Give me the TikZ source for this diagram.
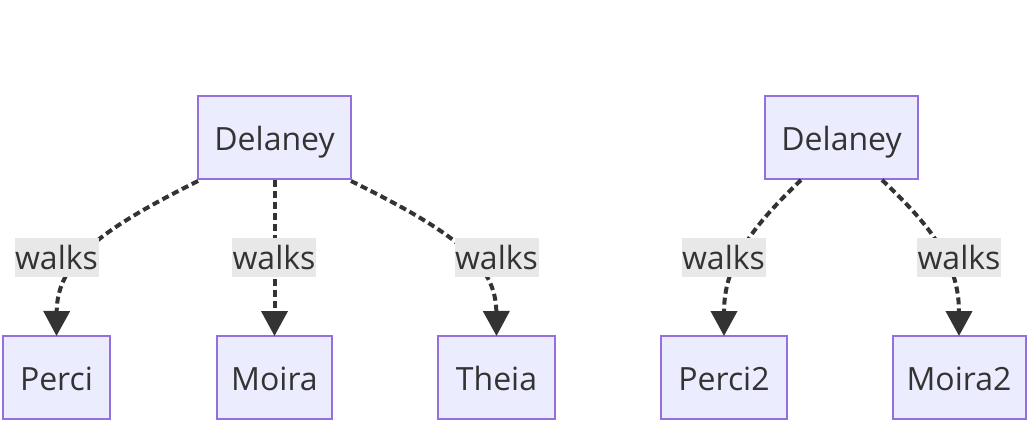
\documentclass[tikz,border=0pt]{standalone}
\usepackage{fontspec}
\setmainfont{Open Sans}
\usetikzlibrary{arrows.meta}
\definecolor{nodefill}{HTML}{ECECFF}
\definecolor{nodeline}{HTML}{9370DB}
\definecolor{edgecol}{HTML}{333333}
\definecolor{labfill}{HTML}{E8E8E8}
\tikzset{
  box/.style={draw=nodeline, fill=nodefill, line width=2pt, minimum height=83pt,
    inner sep=0pt, text=edgecol, font=\fontsize{32}{36}\selectfont,
    text height=26pt, text depth=0pt},
  lab/.style={fill=labfill, inner sep=0pt, minimum width=84pt, minimum height=39pt,
    text=edgecol, font=\fontsize{32}{36}\selectfont, text height=24pt, text depth=0pt},
  edge/.style={draw=edgecol, line width=4pt, dash pattern=on 7pt off 4pt,
    -{Triangle[width=26pt,length=25pt]}, shorten >=-1pt},
}
\begin{document}
\begin{tikzpicture}[x=1pt,y=-1pt]
\useasboundingbox (0,0) rectangle (1027,447);
% nodes
\node[box, minimum width=153pt] (D1) at (274.5,137.5) {Delaney};
\node[box, minimum width=107pt] (P) at (56.5,377.5) {Perci};
\node[box, minimum width=115pt] (M) at (274.5,377.5) {Moira};
\node[box, minimum width=117pt] (T) at (496.5,377.5) {Theia};
\node[box, minimum width=153pt] (D2) at (841.5,137.5) {Delaney};
\node[box, minimum width=126pt] (P2) at (724,377.5) {Perci2};
\node[box, minimum width=133pt] (M2) at (959,377.5) {Moira2};
% edges
\coordinate (d1a) at ([xshift=1pt,yshift=-1pt]D1.south west);
\coordinate (d1c) at ([xshift=-1pt,yshift=-1pt]D1.south east);
\coordinate (d2a) at (801,180);
\coordinate (d2b) at (882,180);
\draw[edge] (d1a) .. controls (100,230) and (57,262) .. (P.north);
\draw[edge] (D1.south) -- (M.north);
\draw[edge] (d1c) .. controls (450,230) and (496,262) .. (T.north);
\draw[edge] (d2a) .. controls (755,224) and (724,262) .. (P2.north);
\draw[edge] (d2b) .. controls (930,225) and (959,262) .. (M2.north);
% labels
\node[lab] (l1) at (56.5,257) {walks};
\node[lab] (l2) at (274,257) {walks};
\node[lab] (l3) at (496.5,257) {walks};
\node[lab] (l4) at (723.5,257) {walks};
\node[lab] (l5) at (959,257) {walks};
\end{tikzpicture}
\end{document}
